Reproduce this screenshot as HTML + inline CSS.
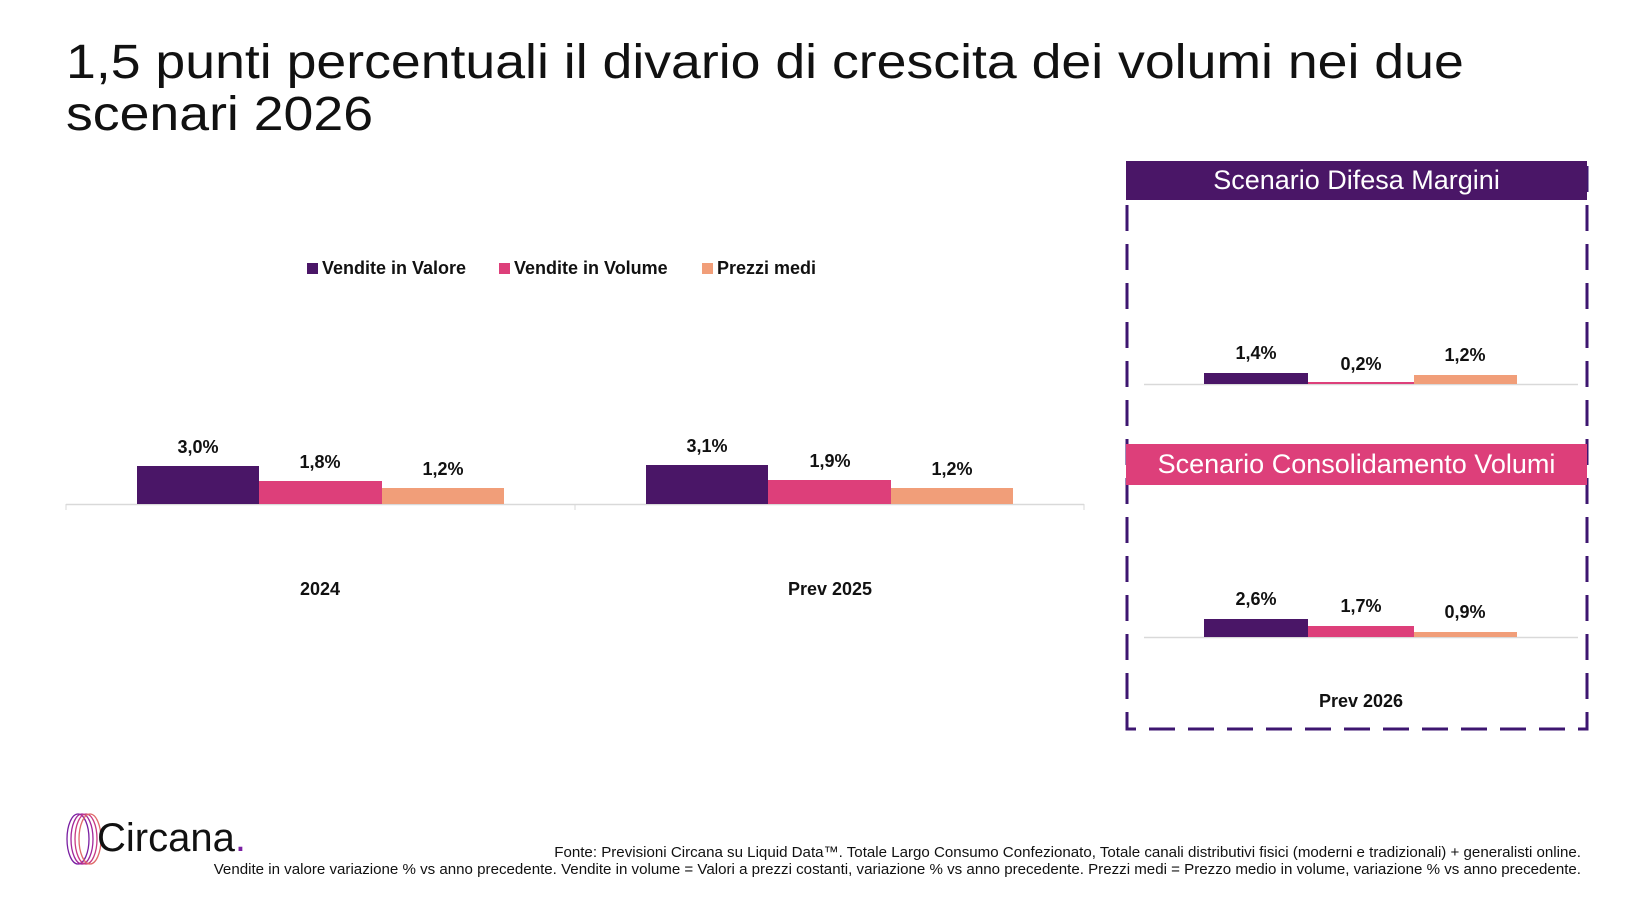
<!DOCTYPE html>
<html><head><meta charset="utf-8">
<style>
body{margin:0;width:1635px;height:900px;background:#fff;font-family:"Liberation Sans",sans-serif;position:relative;overflow:hidden}
.a{position:absolute}
.t{font-size:48px;color:#111;left:66px;line-height:52px;top:37px;transform:scaleX(1.117);transform-origin:left top;white-space:nowrap}
.lab{position:absolute;font-weight:bold;font-size:18px;color:#111;transform:translateX(-50%);white-space:nowrap}
.bar{position:absolute}
.P{background:#4a1667}.K{background:#dd3f7a}.O{background:#f19e79}
.leg{position:absolute;top:258px;font-weight:bold;font-size:18px;color:#111}
.leg i{display:inline-block;width:11px;height:11px;margin-right:4px;vertical-align:0}
.hdr{position:absolute;left:1126px;width:461px;color:#fff;font-size:27px;text-align:center}
</style></head><body>
<div class="a t">1,5 punti percentuali il divario di crescita dei volumi nei due<br>scenari 2026</div>

<div class="leg" style="left:307px"><i class="P"></i>Vendite in Valore</div>
<div class="leg" style="left:499px"><i class="K"></i>Vendite in Volume</div>
<div class="leg" style="left:702px"><i class="O"></i>Prezzi medi</div>

<svg class="a" style="left:0;top:0" width="1635" height="900">
<line x1="66" y1="504.5" x2="1084" y2="504.5" stroke="#d9d9d9" stroke-width="1.5"/>
<line x1="66" y1="504" x2="66" y2="510" stroke="#d9d9d9"/>
<line x1="575" y1="504" x2="575" y2="510" stroke="#d9d9d9"/>
<line x1="1084" y1="504" x2="1084" y2="510" stroke="#d9d9d9"/>
<line x1="1144" y1="384.5" x2="1578" y2="384.5" stroke="#d9d9d9" stroke-width="1.5"/>
<line x1="1144" y1="637.5" x2="1578" y2="637.5" stroke="#d9d9d9" stroke-width="1.5"/>
<path d="M1127 205 V729 H1587 V165" fill="none" stroke="#3d1670" stroke-width="3" stroke-dasharray="26 13"/>
</svg>

<div class="bar P" style="left:137px;width:122px;top:466px;height:38px"></div>
<div class="bar K" style="left:259px;width:123px;top:481px;height:23px"></div>
<div class="bar O" style="left:382px;width:122px;top:488px;height:16px"></div>
<div class="bar P" style="left:646px;width:122px;top:465px;height:39px"></div>
<div class="bar K" style="left:768px;width:123px;top:480px;height:24px"></div>
<div class="bar O" style="left:891px;width:122px;top:488px;height:16px"></div>
<div class="lab" style="left:198px;top:437px">3,0%</div>
<div class="lab" style="left:320px;top:452px">1,8%</div>
<div class="lab" style="left:443px;top:459px">1,2%</div>
<div class="lab" style="left:707px;top:436px">3,1%</div>
<div class="lab" style="left:830px;top:451px">1,9%</div>
<div class="lab" style="left:952px;top:459px">1,2%</div>
<div class="lab" style="left:320px;top:579px">2024</div>
<div class="lab" style="left:830px;top:579px">Prev 2025</div>

<div class="hdr" style="top:161px;height:39px;line-height:39px;background:#4a1667">Scenario Difesa Margini</div>
<div class="hdr" style="top:444px;height:41px;line-height:41px;background:#dd3f7a">Scenario Consolidamento Volumi</div>

<div class="bar P" style="left:1204px;width:104px;top:373px;height:11px"></div>
<div class="bar K" style="left:1308px;width:106px;top:382px;height:2px"></div>
<div class="bar O" style="left:1414px;width:103px;top:375px;height:9px"></div>
<div class="lab" style="left:1256px;top:343px">1,4%</div>
<div class="lab" style="left:1361px;top:354px">0,2%</div>
<div class="lab" style="left:1465px;top:345px">1,2%</div>

<div class="bar P" style="left:1204px;width:104px;top:619px;height:18px"></div>
<div class="bar K" style="left:1308px;width:106px;top:626px;height:11px"></div>
<div class="bar O" style="left:1414px;width:103px;top:632px;height:5px"></div>
<div class="lab" style="left:1256px;top:589px">2,6%</div>
<div class="lab" style="left:1361px;top:596px">1,7%</div>
<div class="lab" style="left:1465px;top:602px">0,9%</div>
<div class="lab" style="left:1361px;top:691px">Prev 2026</div>

<svg class="a" style="left:64px;top:812px" width="50" height="56">
<g fill="none" stroke-width="1.3">
<ellipse cx="14" cy="27" rx="11" ry="25" stroke="#7a1fa2"/>
<ellipse cx="18" cy="27" rx="11" ry="25" stroke="#a3279a"/>
<ellipse cx="22" cy="27" rx="11" ry="25" stroke="#c83a84"/>
<ellipse cx="26" cy="27" rx="11" ry="25" stroke="#e06a6a"/>
</g></svg>
<div class="a" style="left:97px;top:816px;font-size:40px;color:#111">Circana<span style="color:#7a1fa2">.</span></div>
<div class="a" style="right:54px;top:844px;font-size:15.1px;color:#111;text-align:right;line-height:17px;white-space:nowrap">Fonte: Previsioni Circana su Liquid Data™. Totale Largo Consumo Confezionato, Totale canali distributivi fisici (moderni e tradizionali) + generalisti online.<br>Vendite in valore variazione % vs anno precedente. Vendite in volume = Valori a prezzi costanti, variazione % vs anno precedente. Prezzi medi = Prezzo medio in volume, variazione % vs anno precedente.</div>
</body></html>
